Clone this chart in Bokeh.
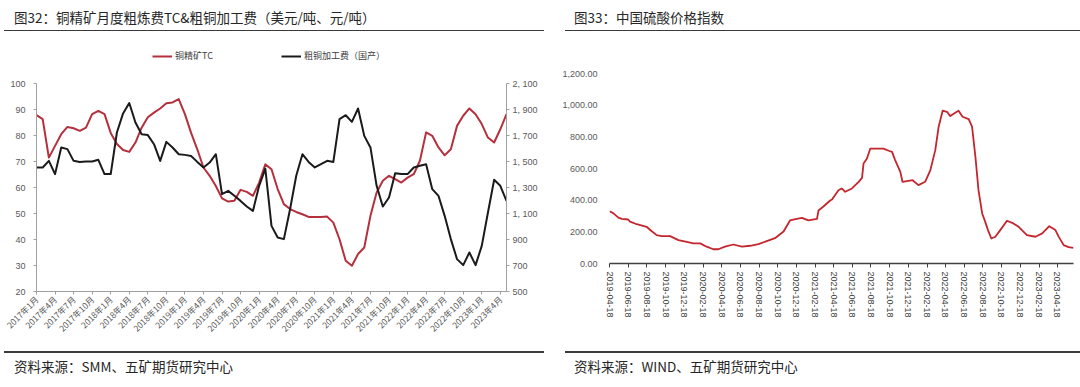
import math
import pandas as pd
from bokeh.plotting import figure
from bokeh.models import (Range1d, LinearAxis, Legend, LegendItem, Div,
                          FixedTicker, DatetimeTickFormatter, NumeralTickFormatter)
from bokeh.layouts import row, column
from bokeh.embed import file_html
from bokeh.resources import INLINE

CJK = "Noto Sans CJK SC"
NUM = "Liberation Sans"
RED1 = "#B5303D"
RED2 = "#C4262E"
DARK = "#3A3A3A"

# ---------------- Figure 32: monthly, 2017-01 .. 2023-05 ----------------
tc_usd = [87.8, 86.3, 71.5, 76.0, 80.5, 83.3, 82.8, 81.8, 83.0, 88.2,
          89.5, 88.2, 81.0, 76.7, 74.4, 73.7, 77.3, 83.0, 87.0, 88.8,
          90.4, 92.4, 92.7, 94.0, 88.2, 81.0, 74.7, 67.7, 64.5, 60.6,
          55.8, 54.6, 54.9, 59.1, 58.3, 56.8, 61.9, 68.9, 67.0, 59.4,
          53.6, 51.7, 50.6, 49.7, 48.7, 48.7, 48.7, 48.8, 46.5, 40.1,
          31.8, 29.9, 34.4, 36.9, 49.1, 58.1, 62.6, 64.5, 63.2, 61.9,
          63.8, 65.1, 70.3, 81.2, 79.9, 75.4, 72.4, 74.7, 83.7, 87.6,
          90.4, 88.2, 84.4, 79.2, 77.3, 82.4, 88.2]
blister_fee_cny = [1454, 1454, 1505, 1403, 1608, 1595, 1505, 1497, 1500, 1500,
                   1513, 1403, 1403, 1723, 1870, 1950, 1800, 1710, 1703, 1633,
                   1505, 1651, 1608, 1556, 1551, 1543, 1497, 1454, 1492, 1556,
                   1249, 1274, 1236, 1197, 1154, 1120, 1313, 1445, 1005, 915,
                   903, 1133, 1390, 1556, 1497, 1454, 1479, 1505, 1497, 1826,
                   1856, 1805, 1908, 1697, 1608, 1313, 1154, 1223, 1410, 1403,
                   1403, 1454, 1467, 1479, 1287, 1236, 1082, 903, 749, 703,
                   800, 703, 851, 1108, 1359, 1313, 1197]
month_tick_labels = ["2017年1月", "2017年4月", "2017年7月", "2017年10月",
                     "2018年1月", "2018年4月", "2018年7月", "2018年10月",
                     "2019年1月", "2019年4月", "2019年7月", "2019年10月",
                     "2020年1月", "2020年4月", "2020年7月", "2020年10月",
                     "2021年1月", "2021年4月", "2021年7月", "2021年10月",
                     "2022年1月", "2022年4月", "2022年7月", "2022年10月",
                     "2023年1月", "2023年4月"]
tc_ticks = [20, 30, 40, 50, 60, 70, 80, 90, 100]
fee_ticks = [500, 700, 900, 1100, 1300, 1500, 1700, 1900, 2100]
fee_tick_labels = ["500", "700", "900", "1, 100", "1, 300", "1, 500", "1, 700", "1, 900", "2, 100"]
series_names = ["铜精矿TC", "粗铜加工费（国产）"]

# ---------------- Figure 33: China sulphuric acid price index ----------------
acid_dates = ["2019-04-18", "2019-04-30", "2019-05-17", "2019-05-28", "2019-06-18",
              "2019-06-24", "2019-07-16", "2019-08-17", "2019-09-03", "2019-09-19",
              "2019-10-05", "2019-11-02", "2019-11-29", "2019-12-26", "2020-01-17",
              "2020-02-08", "2020-02-29", "2020-03-22", "2020-04-07", "2020-04-29",
              "2020-05-26", "2020-06-23", "2020-07-20", "2020-08-16", "2020-09-12",
              "2020-10-09", "2020-11-06", "2020-11-27", "2020-12-19", "2021-01-05",
              "2021-01-26", "2021-02-23", "2021-02-28", "2021-03-16", "2021-04-07",
              "2021-04-13", "2021-05-04", "2021-05-15", "2021-05-26", "2021-06-17",
              "2021-07-09", "2021-07-20", "2021-07-25", "2021-08-05", "2021-08-16",
              "2021-09-28", "2021-10-15", "2021-10-26", "2021-11-05", "2021-11-22",
              "2021-11-29", "2021-12-19", "2022-01-01", "2022-01-20", "2022-02-11",
              "2022-02-28", "2022-03-16", "2022-03-27", "2022-04-09", "2022-04-23",
              "2022-05-04", "2022-05-20", "2022-05-31", "2022-06-13", "2022-07-03",
              "2022-07-14", "2022-07-25", "2022-08-04", "2022-08-16", "2022-08-26",
              "2022-09-04", "2022-09-15", "2022-09-28", "2022-10-14", "2022-11-05",
              "2022-11-22", "2022-12-13", "2023-01-09", "2023-02-06", "2023-02-28",
              "2023-03-23", "2023-04-12", "2023-04-23", "2023-05-09", "2023-05-25",
              "2023-06-10"]
acid_index = [330, 318, 290, 282, 278, 265, 248, 232, 204, 179,
              173, 173, 148, 137, 127, 127, 106, 90, 90, 106,
              120, 106, 112, 122, 141, 160, 202, 272, 282, 288,
              272, 282, 335, 360, 398, 404, 463, 474, 453, 474,
              516, 541, 632, 663, 726, 726, 712, 705, 653, 579,
              516, 522, 526, 495, 516, 590, 716, 864, 965, 958,
              931, 952, 965, 927, 912, 864, 674, 463, 316, 263,
              211, 158, 169, 211, 270, 257, 232, 179, 169, 190,
              236, 211, 168, 116, 103, 99]
acid_tick_labels = ["2019-04-18", "2019-06-18", "2019-08-18", "2019-10-18", "2019-12-18",
                    "2020-02-18", "2020-04-18", "2020-06-18", "2020-08-18", "2020-10-18",
                    "2020-12-18", "2021-02-18", "2021-04-18", "2021-06-18", "2021-08-18",
                    "2021-10-18", "2021-12-18", "2022-02-18", "2022-04-18", "2022-06-18",
                    "2022-08-18", "2022-10-18", "2022-12-18", "2023-02-18", "2023-04-18"]
acid_y_ticks = [0, 200, 400, 600, 800, 1000, 1200]

titles = ["图32：铜精矿月度粗炼费TC&粗铜加工费（美元/吨、元/吨）", "图33：中国硫酸价格指数"]
sources = ["资料来源：SMM、五矿期货研究中心", "资料来源：WIND、五矿期货研究中心"]

TXT = ("position:absolute;white-space:nowrap;font-family:'Noto Sans CJK SC',sans-serif;"
       "font-size:13.5px;line-height:18px;color:#262626;")


def rule(left, width, top):
    return (f"<div style='position:absolute;left:{left}px;width:{width}px;top:{top}px;"
            f"height:1.5px;background:{DARK};'></div>")


def header_div(text, text_left, rules, height, text_top):
    html = f"<div style='position:relative;width:540px;height:{height}px;'>"
    for (l, w, t) in rules:
        html += rule(l, w, t)
    html += f"<div style=\"{TXT}left:{text_left}px;top:{text_top}px;\">{text}</div></div>"
    return Div(text=html, width=540, height=height, margin=0)


def style_axis(ax, size="9px", font=NUM, color="#595959", line_color="#A0A0A0"):
    ax.major_label_text_font = font
    ax.major_label_text_font_size = size
    ax.major_label_text_color = color
    ax.axis_line_color = line_color
    ax.major_tick_line_color = line_color
    ax.minor_tick_line_color = None
    ax.major_tick_out = 3
    ax.major_tick_in = 0


# ---------------- left panel ----------------
months = list(range(len(tc_usd)))
p1 = figure(width=540, height=312, output_backend="svg", toolbar_location=None,
            x_range=Range1d(0, len(tc_usd) - 1), y_range=Range1d(20, 115),
            min_border_left=36, min_border_right=34, min_border_top=13, min_border_bottom=52)
p1.extra_y_ranges = {"fee": Range1d(500, 2400)}
p1.xgrid.visible = False
p1.ygrid.visible = False
p1.outline_line_color = None

r_tc = p1.line(months, tc_usd, line_color=RED1, line_width=2, line_join="round")
r_fee = p1.line(months, blister_fee_cny, line_color="#1A1A1A", line_width=2,
                line_join="round", y_range_name="fee")

xa = p1.xaxis[0]
xa.ticker = FixedTicker(ticks=[3 * i for i in range(len(month_tick_labels))])
xa.major_label_overrides = {3 * i: lab for i, lab in enumerate(month_tick_labels)}
xa.major_label_orientation = math.pi / 4
style_axis(xa, size="8.5px", font=CJK)
xa.major_label_standoff = 3

ya = p1.yaxis[0]
ya.ticker = FixedTicker(ticks=tc_ticks)
ya.bounds = (20, 100)
style_axis(ya)
ya.major_label_standoff = 8

yr = LinearAxis(y_range_name="fee", ticker=FixedTicker(ticks=fee_ticks),
                major_label_overrides=dict(zip(fee_ticks, fee_tick_labels)),
                bounds=(500, 2100))
style_axis(yr)
yr.major_label_standoff = 3
p1.add_layout(yr, "right")

leg = Legend(items=[LegendItem(label=series_names[0], renderers=[r_tc]),
                    LegendItem(label=series_names[1], renderers=[r_fee])],
             location=(116, 229), orientation="horizontal", spacing=68,
             glyph_width=20, glyph_height=10, label_height=10, label_standoff=3,
             label_text_font=CJK, label_text_font_size="9px", label_text_color="#404040",
             padding=0, margin=0, border_line_color=None, background_fill_alpha=0)
p1.add_layout(leg, "center")

# ---------------- right panel ----------------
acid_x = pd.to_datetime(acid_dates)
p2 = figure(width=540, height=312, output_backend="svg", toolbar_location=None,
            x_axis_type="datetime",
            x_range=Range1d(acid_x[0], acid_x[-1]), y_range=Range1d(0, 1200),
            min_border_left=69, min_border_right=7, min_border_top=42, min_border_bottom=80)
p2.xgrid.visible = False
p2.ygrid.visible = False
p2.outline_line_color = None

p2.line(acid_x, acid_index, line_color=RED2, line_width=1.8, line_join="round")

xb = p2.xaxis[0]
xb.ticker = FixedTicker(ticks=[pd.Timestamp(s).value / 1e6 for s in acid_tick_labels])
fmt = "%Y-%m-%d"
xb.formatter = DatetimeTickFormatter(milliseconds=fmt, seconds=fmt, minsec=fmt, minutes=fmt,
                                     hourmin=fmt, hours=fmt, days=fmt, months=fmt, years=fmt)
xb.major_label_orientation = -math.pi / 2
style_axis(xb, size="9px", color="#404040", line_color="#404040")
xb.major_tick_out = 4
xb.axis_line_width = 1.3
xb.major_label_standoff = 4

yb = p2.yaxis[0]
yb.ticker = FixedTicker(ticks=acid_y_ticks)
yb.formatter = NumeralTickFormatter(format="0,0.00")
style_axis(yb, size="9px", color="#595959")
yb.axis_line_color = None
yb.major_tick_line_color = None
yb.major_label_standoff = 9

# ---------------- titles / sources ----------------
t1 = header_div(titles[0], 14, [(4, 536, 29.5)], 31, 8)
t2 = header_div(titles[1], 34, [(0, 4, 29.5), (25, 515, 29.5)], 31, 8)
s1 = header_div(sources[0], 14, [(4, 536, 8.3)], 44, 14)
s2 = header_div(sources[1], 34, [(0, 4, 8.3), (25, 515, 8.3)], 44, 14)

layout = row(column(t1, p1, s1, spacing=0), column(t2, p2, s2, spacing=0), spacing=0)
open("out.html", "w").write(file_html(layout, INLINE))
